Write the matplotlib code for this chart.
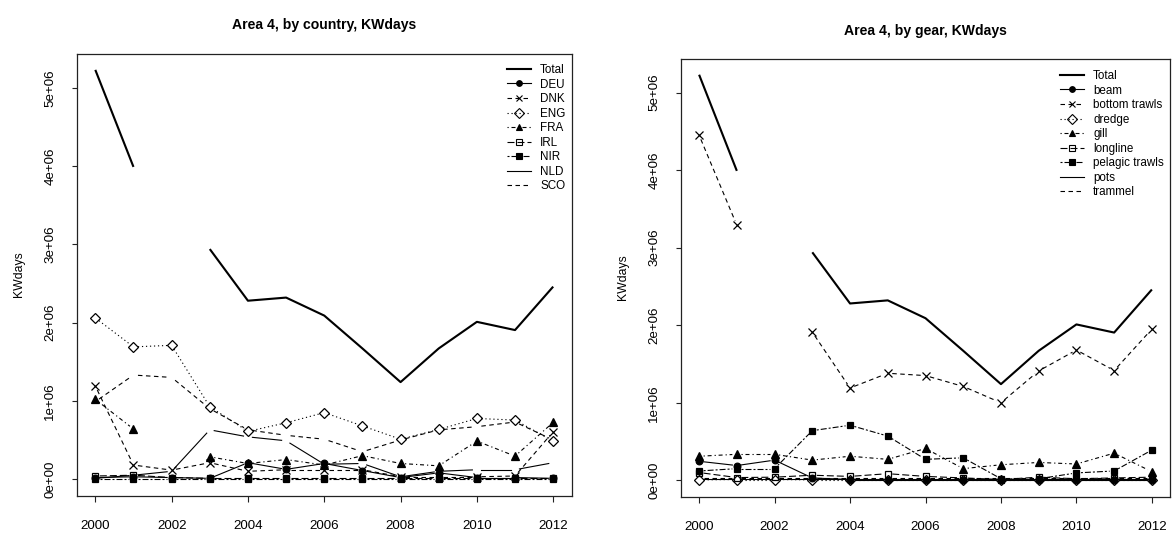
import numpy as np
import matplotlib
matplotlib.use('Agg')
import matplotlib.pyplot as plt
from matplotlib.lines import Line2D

plt.rcParams['font.family'] = ['Liberation Sans', 'DejaVu Sans']
plt.rcParams['lines.scale_dashes'] = False

nan = np.nan
years = [2000, 2001, 2002, 2003, 2004, 2005, 2006, 2007, 2008, 2009, 2010, 2011, 2012]
xtick_years = [2000, 2002, 2004, 2006, 2008, 2010, 2012]
ytick_vals = [0, 1e6, 2e6, 3e6, 4e6, 5e6]
ytick_labels = ["0e+00", "1e+06", "2e+06", "3e+06", "4e+06", "5e+06"]

# total KWdays (same in both panels)
total = [5.23e6, 3.99e6, nan, 2.94e6, 2.28e6, 2.32e6, 2.09e6, 1.67e6, 1.24e6, 1.67e6, 2.01e6, 1.905e6, 2.46e6]

# by country
deu = [0.02e6, 0.03e6, 0.02e6, 0.01e6, 0.21e6, 0.125e6, 0.2e6, 0.11e6, 0.02e6, 0.08e6, 0.02e6, 0.02e6, 0.01e6]
dnk = [1.19e6, 0.18e6, 0.115e6, 0.21e6, 0.1e6, 0.12e6, 0.12e6, 0.12e6, 0.03e6, 0.03e6, 0.03e6, 0.04e6, 0.605e6]
eng = [2.06e6, 1.69e6, 1.71e6, 0.925e6, 0.61e6, 0.72e6, 0.85e6, 0.68e6, 0.51e6, 0.635e6, 0.775e6, 0.755e6, 0.485e6]
fra = [1.02e6, 0.64e6, nan, 0.285e6, 0.2e6, 0.25e6, 0.18e6, 0.3e6, 0.2e6, 0.17e6, 0.486e6, 0.294e6, 0.725e6]
irl = [0.04e6, 0.05e6, 0.02e6, 0.01e6, 0.01e6, 0.01e6, 0.01e6, 0.01e6, 0.01e6, 0.01e6, 0.01e6, 0.01e6, 0.01e6]
nir = [0.005e6, 0.005e6, 0.005e6, 0.005e6, 0.005e6, 0.005e6, 0.005e6, 0.005e6, 0.005e6, 0.005e6, 0.005e6, 0.005e6, 0.005e6]
nld = [0.01e6, 0.05e6, 0.1e6, 0.63e6, 0.54e6, 0.49e6, 0.19e6, 0.2e6, 0.03e6, 0.1e6, 0.12e6, 0.12e6, 0.21e6]
sco = [0.99e6, 1.33e6, 1.3e6, 0.9e6, 0.63e6, 0.56e6, 0.51e6, 0.35e6, 0.5e6, 0.63e6, 0.67e6, 0.73e6, 0.5e6]

# by gear
beam = [0.245e6, 0.19e6, 0.26e6, 0.03e6, 0.01e6, 0.01e6, 0.01e6, 0.01e6, 0.01e6, 0.01e6, 0.01e6, 0.01e6, 0.01e6]
bottom_trawls = [4.45e6, 3.29e6, nan, 1.91e6, 1.19e6, 1.38e6, 1.35e6, 1.21e6, 1.0e6, 1.41e6, 1.68e6, 1.415e6, 1.95e6]
dredge = [0.005e6, 0.01e6, 0.01e6, 0.005e6, 0.005e6, 0.005e6, 0.005e6, 0.005e6, 0.005e6, 0.005e6, 0.005e6, 0.005e6, 0.005e6]
gill = [0.31e6, 0.335e6, 0.335e6, 0.26e6, 0.31e6, 0.27e6, 0.41e6, 0.15e6, 0.2e6, 0.23e6, 0.21e6, 0.35e6, 0.11e6]
longline = [0.1e6, 0.035e6, 0.04e6, 0.065e6, 0.05e6, 0.085e6, 0.05e6, 0.03e6, 0.01e6, 0.04e6, 0.02e6, 0.03e6, 0.04e6]
pelagic_trawls = [0.12e6, 0.15e6, 0.15e6, 0.64e6, 0.71e6, 0.57e6, 0.27e6, 0.29e6, 0.02e6, 0.02e6, 0.095e6, 0.12e6, 0.39e6]
pots = [0.02e6, 0.02e6, 0.02e6, 0.02e6, 0.02e6, 0.02e6, 0.02e6, 0.02e6, 0.02e6, 0.02e6, 0.02e6, 0.02e6, 0.02e6]
trammel = [0.03e6, 0.03e6, 0.03e6, 0.03e6, 0.03e6, 0.03e6, 0.03e6, 0.03e6, 0.03e6, 0.03e6, 0.03e6, 0.03e6, 0.03e6]

country_names = ["DEU", "DNK", "ENG", "FRA", "IRL", "NIR", "NLD", "SCO"]
country_series = [deu, dnk, eng, fra, irl, nir, nld, sco]
gear_names = ["beam", "bottom trawls", "dredge", "gill", "longline", "pelagic trawls", "pots", "trammel"]
gear_series = [beam, bottom_trawls, dredge, gill, longline, pelagic_trawls, pots, trammel]

PX = 0.72  # points per pixel at dpi 100
# R line types (in pixels)
LTY = [
    '-',
    (0, (4.5 * PX, 3.5 * PX)),
    (0, (1.2 * PX, 2.8 * PX)),
    (0, (1.2 * PX, 2.8 * PX, 4 * PX, 3 * PX)),
    (0, (7 * PX, 3 * PX)),
    (0, (2 * PX, 2 * PX, 6 * PX, 2 * PX)),
    '-',
    (0, (4.5 * PX, 3.5 * PX)),
]
# marker: (marker, filled, size)
PCH = [('o', True, 4.8), ('x', False, 5.2), ('D', False, 5.6), ('^', True, 5.8),
       ('s', False, 4.8), ('s', True, 5.0), (None, False, 0), (None, False, 0)]

GAP = 4.5  # pixels of gap between line and point (R type="b")
LW = 0.8


def type_b(ax, x, y, gap_px, **kw):
    x = np.asarray(x, float)
    y = np.asarray(y, float)
    pts = ax.transData.transform(np.column_stack([x, np.nan_to_num(y)]))
    inv = ax.transData.inverted()
    for i in range(len(x) - 1):
        if np.isnan(y[i]) or np.isnan(y[i + 1]):
            continue
        p0, p1 = pts[i], pts[i + 1]
        d = p1 - p0
        L = np.hypot(d[0], d[1])
        if L <= 2 * gap_px:
            continue
        u = d / L
        a = inv.transform(p0 + u * gap_px)
        b = inv.transform(p1 - u * gap_px)
        ax.plot([a[0], b[0]], [a[1], b[1]], color='black', lw=LW, **kw)


fig = plt.figure(figsize=(11.72, 5.36), dpi=100)
W, H = 1172.0, 536.0


def make_panel(rect_px, title, names, series, title_y, leg_xy, ylab_x):
    l, t, r, b = rect_px
    ax = fig.add_axes([l / W, 1 - b / H, (r - l) / W, (b - t) / H])
    ymax = np.nanmax(total)
    ax.set_xlim(2000 - 0.04 * 12, 2012 + 0.04 * 12)
    ax.set_ylim(-0.04 * ymax, 1.04 * ymax)
    # total
    ax.plot(years, total, color='black', lw=2 * LW * 0.95, solid_capstyle='butt')
    handles = [Line2D([], [], color='black', lw=2 * LW * 0.95)]
    for k, (name, s) in enumerate(zip(names, series)):
        ls = LTY[k]
        type_b(ax, years, s, GAP, linestyle=ls)
        m, filled, ms = PCH[k]
        if m is not None:
            ax.plot(years, s, linestyle='none', marker=m, markersize=ms,
                    markerfacecolor='black' if filled else 'none',
                    markeredgecolor='black', markeredgewidth=0.9)
        handles.append(Line2D([], [], color='black', lw=LW, linestyle=ls,
                              marker=m if m else None, markersize=ms * 0.85,
                              markerfacecolor='black' if filled else 'none',
                              markeredgecolor='black', markeredgewidth=0.8))
    labels = ["Total"] + names
    lx, ly = leg_xy
    ax.legend(handles, labels, loc='upper left',
              bbox_to_anchor=((lx - l) / (r - l), (b - ly) / (b - t)),
              frameon=False, fontsize=8.35, handlelength=2.1, handletextpad=0.75,
              labelspacing=0.22, borderpad=0, borderaxespad=0, numpoints=1)
    ax.set_xticks(xtick_years)
    ax.set_xticklabels([str(v) for v in xtick_years])
    ax.set_yticks(ytick_vals)
    ax.set_yticklabels(ytick_labels, rotation=90, va='center')
    ax.tick_params(direction='out', length=5.5 * PX, width=0.8, labelsize=9.6,
                   color='#222222')
    ax.tick_params(axis='x', pad=13.5)
    ax.tick_params(axis='y', pad=11)
    for sp in ax.spines.values():
        sp.set_linewidth(0.9)
        sp.set_color('#222222')
    ax.set_ylabel("KWdays", fontsize=8.8)
    ax.yaxis.set_label_coords((ylab_x - l) / (r - l), 0.5)
    fig.text((l + r) / 2 / W, 1 - title_y / H, title, ha='center', va='center',
             fontsize=10.1, fontweight='bold')
    return ax


make_panel((77, 53.5, 571.5, 495.5), "Area 4, by country, KWdays", country_names,
           country_series, 25.5, (507, 64), 25)
make_panel((681, 58.5, 1170, 496.5), "Area 4, by gear, KWdays", gear_names,
           gear_series, 31, (1060, 70), 629)

fig.savefig('out.png', dpi=100, facecolor='white')
